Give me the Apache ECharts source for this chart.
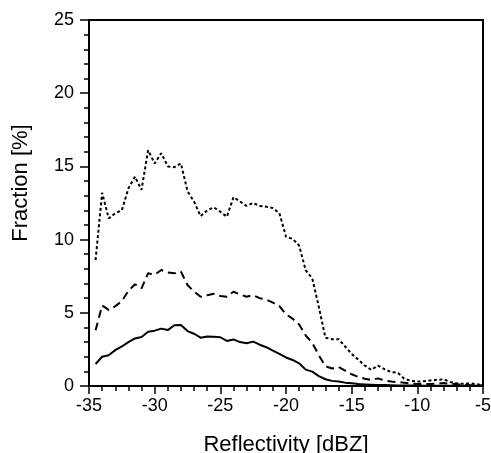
<!DOCTYPE html>
<html>
<head>
<meta charset="utf-8">
<script src="https://cdn.jsdelivr.net/npm/echarts@6/dist/echarts.min.js"></script>
<style>
html,body{margin:0;padding:0;background:#fff;}
#chart{width:491px;height:453px;}
</style>
</head>
<body>
<div id="chart"></div>
<script>
var reflectivity = [-34.5,-34,-33.5,-33,-32.5,-32,-31.5,-31,-30.5,-30,-29.5,-29,-28.5,-28,-27.5,-27,-26.5,-26,-25.5,-25,-24.5,-24,-23.5,-23,-22.5,-22,-21.5,-21,-20.5,-20,-19.5,-19,-18.5,-18,-17.5,-17,-16.5,-16,-15.5,-15,-14.5,-14,-13.5,-13,-12.5,-12,-11.5,-11,-10.5,-10,-9.5,-9,-8.5,-8,-7.5,-7,-6.5,-6,-5.5,-5];

var solidSeries = [1.5,2.0,2.1,2.45,2.7,3.0,3.25,3.35,3.7,3.78,3.92,3.82,4.15,4.17,3.75,3.57,3.3,3.38,3.37,3.33,3.08,3.18,3.0,2.92,3.03,2.82,2.65,2.42,2.2,1.95,1.78,1.55,1.12,0.98,0.68,0.46,0.35,0.3,0.23,0.18,0.13,0.11,0.09,0.07,0.06,0.05,0.04,0.04,0.03,0.03,0.02,0.02,0.02,0.02,0.01,0.01,0.01,0.01,0.01,0.01];

var dashedSeries = [3.8,5.5,5.2,5.45,5.8,6.5,6.95,6.67,7.7,7.6,7.92,7.75,7.7,7.81,6.9,6.45,6.1,6.2,6.3,6.15,6.1,6.44,6.25,6.1,6.2,6.0,5.9,5.7,5.45,4.9,4.6,4.2,3.45,2.95,2.1,1.35,1.2,1.3,1.05,0.8,0.62,0.5,0.41,0.52,0.38,0.3,0.27,0.22,0.16,0.14,0.13,0.14,0.16,0.2,0.16,0.12,0.1,0.07,0.05,0.03];

var dottedSeries = [8.6,13.2,11.45,11.8,12.0,13.5,14.3,13.4,16.1,15.2,15.9,15.0,14.95,15.2,13.3,12.6,11.6,12.0,12.2,11.9,11.56,12.9,12.6,12.3,12.5,12.3,12.25,12.15,11.8,10.2,10.05,9.6,7.9,7.35,5.4,3.3,3.2,3.2,2.7,2.2,1.8,1.4,1.1,1.4,1.15,0.95,0.9,0.5,0.36,0.3,0.32,0.38,0.42,0.46,0.28,0.18,0.15,0.18,0.12,0.05];

var xTicks = [-35,-30,-25,-20,-15,-10,-5];
var yTicks = [0,5,10,15,20,25];

function pairs(ys){ return reflectivity.map(function(x,i){ return [x, ys[i]]; }); }

var chart = echarts.init(document.getElementById('chart'), null, {renderer:'canvas'});
var fontFam = '"Liberation Sans", Arial, sans-serif';
chart.setOption({
  animation:false,
  backgroundColor:'#fff',
  grid:{left:89,right:8,top:20,bottom:67,containLabel:false,outerBoundsMode:'none',show:true,borderColor:'#000',borderWidth:2,backgroundColor:'transparent'},
  xAxis:{
    type:'value',min:xTicks[0],max:xTicks[xTicks.length-1],interval:5,
    name:'Reflectivity [dBZ]',nameLocation:'middle',nameGap:48,
    nameTextStyle:{fontFamily:fontFam,fontSize:22,color:'#000'},
    axisLine:{show:true,onZero:false,lineStyle:{color:'#000',width:2}},
    axisTick:{show:true,inside:false,length:8,lineStyle:{color:'#000',width:1.5}},
    minorTick:{show:true,splitNumber:5,length:5,lineStyle:{color:'#000',width:1.5}},
    axisLabel:{fontFamily:fontFam,fontSize:18,color:'#000',margin:11,showMinLabel:true,showMaxLabel:true},
    splitLine:{show:false}
  },
  yAxis:{
    type:'value',min:yTicks[0],max:yTicks[yTicks.length-1],interval:5,
    name:'Fraction [%]',nameLocation:'middle',nameGap:57,
    nameTextStyle:{fontFamily:fontFam,fontSize:22,color:'#000',padding:[0,0,0,40]},
    axisLine:{show:true,lineStyle:{color:'#000',width:2}},
    axisTick:{show:true,inside:false,length:9,lineStyle:{color:'#000',width:1.5}},
    minorTick:{show:true,splitNumber:5,length:5,lineStyle:{color:'#000',width:1.5}},
    axisLabel:{fontFamily:fontFam,fontSize:18,color:'#000',margin:15},
    splitLine:{show:false}
  },
  series:[
    {type:'line',data:pairs(solidSeries),symbol:'none',lineStyle:{color:'#000',width:2,type:'solid'}},
    {type:'line',data:pairs(dashedSeries),symbol:'none',lineStyle:{color:'#000',width:2,type:[8,5]}},
    {type:'line',data:pairs(dottedSeries),symbol:'none',lineStyle:{color:'#000',width:2,type:[3,2.5]}}
  ]
});
</script>
</body>
</html>
